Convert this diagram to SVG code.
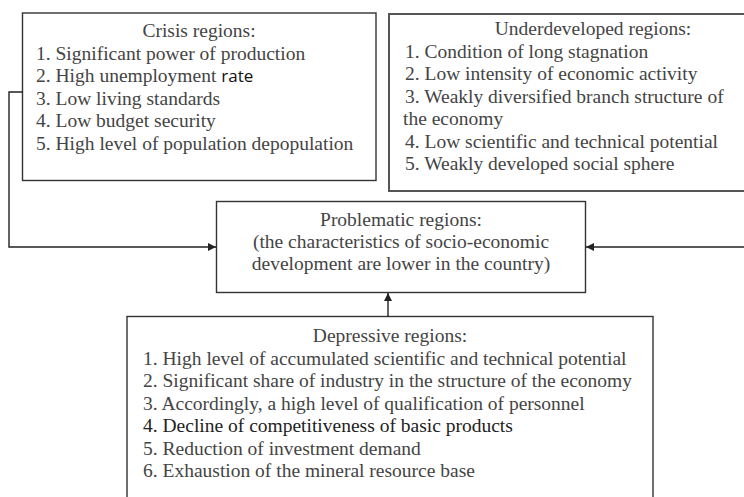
<svg xmlns="http://www.w3.org/2000/svg" width="744" height="497" viewBox="0 0 744 497">
  <style>
    .box { fill: #ffffff; stroke: #333333; stroke-width: 1.4; }
    .t { font-family: "Liberation Serif", "Times New Roman", serif; font-size: 19.5px; fill: #444444; }
    .c { text-anchor: middle; }
    .dark { fill: #222222; }
    .sans { font-family: "Open Sans", "Noto Sans", sans-serif; font-size: 17px; fill: #111111; }
    .conn { fill: none; stroke: #222222; stroke-width: 1.4; }
  </style>
  <defs>
    <marker id="arr" viewBox="0 0 10 10" refX="10" refY="5" markerWidth="9" markerHeight="8" markerUnits="userSpaceOnUse" orient="auto">
      <path d="M0,0 L10,5 L0,10 Z" fill="#222222"/>
    </marker>
  </defs>
  <rect width="744" height="497" fill="#ffffff"/>

  <g id="crisis">
    <rect class="box" x="22.5" y="13" width="353.5" height="167.5"/>
    <text class="t c" x="199" y="37">Crisis regions:</text>
    <text class="t" x="36" y="59.5">1. Significant power of production</text>
    <text class="t" x="36" y="82">2. High unemployment <tspan class="sans">rate</tspan></text>
    <text class="t" x="36" y="104.5">3. Low living standards</text>
    <text class="t" x="36" y="127">4. Low budget security</text>
    <text class="t" x="36" y="149.5">5. High level of population depopulation</text>
  </g>

  <g id="underdeveloped">
    <rect class="box" x="389" y="14" width="410" height="177" style="stroke:#555555;stroke-width:2"/>
    <text class="t c" x="593" y="35">Underdeveloped regions:</text>
    <text class="t" x="405" y="57.5">1. Condition of long stagnation</text>
    <text class="t" x="405" y="80">2. Low intensity of economic activity</text>
    <text class="t" x="405" y="102.5">3. Weakly diversified branch structure of</text>
    <text class="t" x="403" y="125">the economy</text>
    <text class="t" x="405" y="147.5">4. Low scientific and technical potential</text>
    <text class="t" x="405" y="170">5. Weakly developed social sphere</text>
  </g>

  <g id="problematic">
    <rect class="box" x="216.5" y="201.5" width="369" height="91"/>
    <text class="t c" x="401" y="225.5">Problematic regions:</text>
    <text class="t c" x="401" y="248">(the characteristics of socio-economic</text>
    <text class="t c" x="401" y="270">development are lower in the country)</text>
  </g>

  <g id="depressive">
    <rect class="box" x="127" y="316.5" width="526" height="190"/>
    <text class="t c" x="390" y="342">Depressive regions:</text>
    <text class="t" x="143" y="364.5">1. High level of accumulated scientific and technical potential</text>
    <text class="t" x="143" y="387">2. Significant share of industry in the structure of the economy</text>
    <text class="t" x="143" y="409.5">3. Accordingly, a high level of qualification of personnel</text>
    <text class="t dark" x="143" y="432">4. Decline of competitiveness of basic products</text>
    <text class="t" x="143" y="454.5">5. Reduction of investment demand</text>
    <text class="t" x="143" y="477">6. Exhaustion of the mineral resource base</text>
  </g>

  <g id="connectors">
    <polyline class="conn" points="22.5,92 9,92 9,247 216,247" marker-end="url(#arr)"/>
    <polyline class="conn" points="744,247 586,247" marker-end="url(#arr)"/>
    <polyline class="conn" points="388,316.5 388,293" marker-end="url(#arr)"/>
  </g>
</svg>
